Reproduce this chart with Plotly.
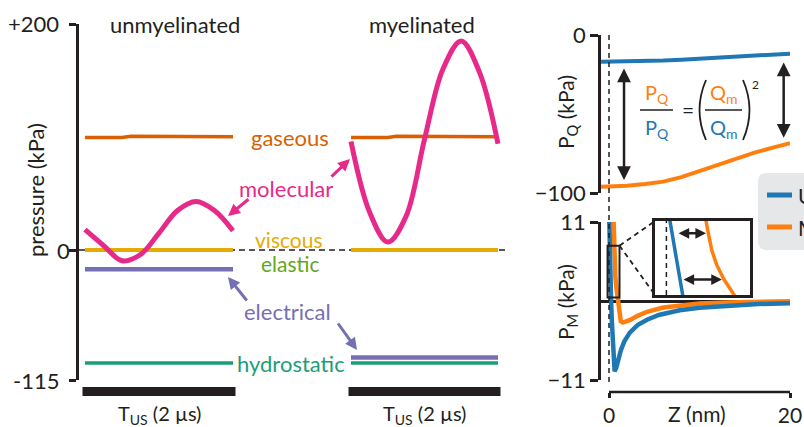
import plotly.graph_objects as go

W, H = 804, 427
FONT = "Lato"
INK = "#231f20"

# pressure component colours
GAS, MOL, VIS, ELA, ELE, HYD = "#d95f02", "#e7298a", "#e6ab02", "#66a61e", "#7570b3", "#1b9e77"
BLUE, ORANGE = "#1f77b4", "#ff7f0e"

# ---- left panel: pressure components over one 2 us ultrasound period (kPa) ----
t_wave = [0.0, 0.25, 0.5, 0.75, 1.0, 1.25, 1.5, 1.75, 2.0]
molecular_unmy = [18, 4, -9.5, -4, 15, 35, 43, 35, 17]
molecular_my = [96, 34, 7, 30, 98, 160, 185, 157, 94]

t_gas = [0.0, 0.5, 0.62, 2.0]
gaseous_unmy = [99.6, 99.6, 100.6, 100.3]
gaseous_my = [99.6, 99.6, 100.6, 100.3]

t_span = [0.0, 2.0]
viscous_unmy, viscous_my = [0, 0], [0, 0]
elastic_unmy, elastic_my = [0, 0], [0, 0]
electrical_unmy, electrical_my = [-17, -17], [-95, -95]
hydrostatic_unmy, hydrostatic_my = [-100, -100], [-100, -100]
pulse = [0.0, 2.0]
p_ticks = [-115, 0, 200]
p_ticktext = ["-115", "0", "+200"]

# ---- right panels: charge pressure P_Q and membrane pressure P_M vs gap Z ----
z_q = [-0.88, 2, 4, 6, 8, 10, 12, 14, 16, 18, 20]
pq_unmy = [-16.9, -16.8, -16.5, -16.2, -15.7, -15.0, -14.3, -13.6, -12.9, -12.3, -11.8]
pq_my = [-96.0, -95.4, -94.3, -92.8, -90.0, -86.2, -82.2, -78.2, -74.6, -71.4, -68.5]

z_m_unmy = [0.0, 0.05, 0.14, 0.225, 0.3, 0.4, 0.5, 0.62, 0.8, 1.0, 1.3, 1.7,
            2.3, 3.2, 4.2, 5.5, 7.8, 10, 13.4, 16.5, 20]
pm_unmy = [13, 7.7, 4.0, 0.4, -2.5, -6.0, -8.8, -9.8, -9.3, -8.2, -6.9, -5.6,
           -4.4, -3.3, -2.6, -1.95, -1.3, -0.95, -0.62, -0.42, -0.3]
z_m_my = [0.5, 0.55, 0.59, 0.63, 0.70, 0.8, 0.95, 1.05, 1.15, 1.3, 1.55, 1.9,
          2.4, 3.1, 4.2, 6, 8, 10, 13, 16.5, 20]
pm_my = [11.5, 7.7, 6.2, 4.85, 3.4, 2.0, 0.4, -1.0, -2.2, -2.8, -3.0, -2.9,
         -2.6, -2.1, -1.5, -0.9, -0.55, -0.35, -0.2, -0.1, -0.05]

q_ticks, m_ticks, z_ticks = [-100, 0], [-11, 11], [0, 20]
inset_z = [-0.158, 1.16]
inset_p = [0.5, 7.7]

# inset arrows: (P level, Z start, Z end)
gap_arrows = [(6.5, 0.148, 0.55), (2.0, 0.217, 0.77)]
# P_Q arrows: (Z, P top, P bottom)
pq_arrows = [(1.66, -20.3, -91.8), (19.3, -16.5, -65.0)]


def fx(p):
    return p / W


def fy(p):
    return 1 - p / H


# pixel layout of the axes
T0_L, T2_L = 85, 233          # unmyelinated time axis: t=0 and t=2 us
T0_R, T2_R = 351, 498         # myelinated time axis
Z0, ZS = 609, 9.05            # Z=0 position and px per nm


def t_range(lo, hi, t0, t2):
    s = (t2 - t0) / 2
    return [(lo - t0) / s, (hi - t0) / s]


zr = [(601 - Z0) / ZS, (790 - Z0) / ZS]

fig = go.Figure()


def smooth(x, y, color, width, xa="x", ya="y"):
    fig.add_trace(go.Scatter(x=x, y=y, mode="lines", xaxis=xa, yaxis=ya,
                             line=dict(color=color, width=width, shape="spline", smoothing=1.0),
                             hoverinfo="skip", showlegend=False))


def lin(x, y, color, width, xa, ya):
    fig.add_trace(go.Scatter(x=x, y=y, mode="lines", xaxis=xa, yaxis=ya,
                             line=dict(color=color, width=width),
                             hoverinfo="skip", showlegend=False))


for xa, gas, mol, vis, ela, ele, hyd in [
    ("x", gaseous_unmy, molecular_unmy, viscous_unmy, elastic_unmy, electrical_unmy, hydrostatic_unmy),
    ("x2", gaseous_my, molecular_my, viscous_my, elastic_my, electrical_my, hydrostatic_my),
]:
    lin(t_span, hyd, HYD, 3.5, xa, "y")
    lin(t_span, ele, ELE, 4.5, xa, "y")
    lin(t_span, ela, ELA, 4, xa, "y")
    lin(t_span, vis, VIS, 4, xa, "y")
    lin(t_gas, gas, GAS, 3.5, xa, "y")
    smooth(t_wave, mol, MOL, 5, xa, "y")

lin(z_q, pq_unmy, BLUE, 4, "x3", "y3")
lin(z_q, pq_my, ORANGE, 4, "x3", "y3")
lin(z_m_my, pm_my, ORANGE, 4.5, "x3", "y4")
lin(z_m_unmy, pm_unmy, BLUE, 4.5, "x3", "y4")
lin(z_m_my, pm_my, ORANGE, 3.5, "x4", "y5")
lin(z_m_unmy, pm_unmy, BLUE, 3.5, "x4", "y5")

shapes = []
annotations = []


def note(text, x, y, color=INK, size=22, xanchor="center", yanchor="middle", xref="paper", yref="paper", **kw):
    annotations.append(dict(text=text, x=x, y=y, xref=xref, yref=yref, showarrow=False,
                            xanchor=xanchor, yanchor=yanchor,
                            font=dict(family=FONT, size=size, color=color), **kw))


def arrow(hx, hy, dx, dy, color, width=3, size=0.8):
    annotations.append(dict(text="", x=fx(hx), y=fy(hy), xref="paper", yref="paper",
                            ax=dx, ay=dy, showarrow=True, arrowhead=2, arrowsize=size,
                            arrowwidth=width, arrowcolor=color, standoff=0))


def dbl_arrow(x0, y0, x1, y1, xref, yref, size, width=2.5):
    annotations.append(dict(text="", x=x1, y=y1, ax=x0, ay=y0, xref=xref, yref=yref,
                            axref=xref, ayref=yref, showarrow=True, arrowside="end+start",
                            arrowhead=2, startarrowhead=2, arrowsize=size, startarrowsize=size,
                            arrowwidth=width, arrowcolor=INK, standoff=0, startstandoff=0))


# zero reference line across both time panels
shapes.append(dict(type="line", xref="paper", yref="y", x0=fx(79), x1=fx(505), y0=0, y1=0,
                   line=dict(color=INK, width=1.5, dash="6px,4px"), layer="below"))

# ultrasound pulse bars under each panel
for xa in ("x", "x2"):
    shapes.append(dict(type="rect", xref=xa, yref="paper", x0=pulse[0], x1=pulse[1],
                       y0=fy(393.5), y1=fy(389.5), fillcolor=INK, line=dict(color=INK, width=5)))
    note("T<sub>US</sub> (2 µs)", (pulse[0] + pulse[1]) / 2, fy(414), size=20, xref=xa)

# Z = 0 wall
shapes.append(dict(type="line", xref="x3", yref="paper", x0=0, x1=0, y0=fy(382), y1=fy(35),
                   line=dict(color=INK, width=1.5, dash="5px,4px")))
shapes.append(dict(type="line", xref="x4", yref="y5 domain", x0=0, x1=0, y0=0, y1=1,
                   line=dict(color=INK, width=1.5, dash="5px,4px")))

# bottom Z axis line
shapes.append(dict(type="line", xref="x3", yref="paper", x0=z_ticks[0], x1=z_ticks[1],
                   y0=fy(392), y1=fy(392), line=dict(color=INK, width=2.5)))

# zoom box and connectors to the inset
shapes.append(dict(type="rect", xref="x3", yref="y4", x0=inset_z[0], x1=inset_z[1],
                   y0=inset_p[0], y1=inset_p[1], line=dict(color=INK, width=2)))
cx = fx(Z0 + inset_z[1] * ZS)
cy = fy(301 - inset_p[1] * (79 / 11))
for ty in (221, 295):
    shapes.append(dict(type="line", xref="paper", yref="paper", x0=cx, y0=cy, x1=fx(655), y1=fy(ty),
                       line=dict(color=INK, width=1.8, dash="5px,4px")))

# ratio formula: fraction bars and brackets
for a, b in ((640, 673), (705, 742)):
    shapes.append(dict(type="line", xref="paper", yref="paper", x0=fx(a), x1=fx(b), y0=fy(110), y1=fy(110),
                       line=dict(color=INK, width=1.5)))
shapes.append(dict(type="path", xref="paper", yref="paper",
                   path=f"M{fx(706)},{fy(80)} Q{fx(693)},{fy(110)} {fx(706)},{fy(140)}",
                   line=dict(color=INK, width=1.8)))
shapes.append(dict(type="path", xref="paper", yref="paper",
                   path=f"M{fx(743)},{fy(80)} Q{fx(756)},{fy(110)} {fx(743)},{fy(140)}",
                   line=dict(color=INK, width=1.8)))
note("P<sub>Q</sub>", fx(657), fy(93), ORANGE, 20)
note("P<sub>Q</sub>", fx(657), fy(128), BLUE, 20)
note("=", fx(688), fy(109), INK, 21)
note("Q<sub>m</sub>", fx(724), fy(93), ORANGE, 20)
note("Q<sub>m</sub>", fx(724), fy(128), BLUE, 20)
note("2", fx(755), fy(84), INK, 12)

# legend panel
lx0, lx1, ly0, ly1, r = 758, 840, 173, 250, 9
shapes.append(dict(type="path", xref="paper", yref="paper", fillcolor="#e6e7e8", line=dict(width=0),
                   path=(f"M{fx(lx0 + r)},{fy(ly0)} L{fx(lx1)},{fy(ly0)} L{fx(lx1)},{fy(ly1)} "
                         f"L{fx(lx0 + r)},{fy(ly1)} Q{fx(lx0)},{fy(ly1)} {fx(lx0)},{fy(ly1 - r)} "
                         f"L{fx(lx0)},{fy(ly0 + r)} Q{fx(lx0)},{fy(ly0)} {fx(lx0 + r)},{fy(ly0)} Z")))
for yy, col, name in ((195, BLUE, "Unmyelinated"), (227, ORANGE, "Myelinated")):
    shapes.append(dict(type="line", xref="paper", yref="paper", x0=fx(767), x1=fx(792), y0=fy(yy), y1=fy(yy),
                       line=dict(color=col, width=5)))
    note(name, fx(796), fy(yy), INK, 21, xanchor="left")

# panel headers and axis titles
note("unmyelinated", fx(175), fy(25), INK, 22)
note("myelinated", fx(422), fy(25), INK, 22)
note("pressure (kPa)", fx(35), fy(190), INK, 22, textangle=-90)
note("P<sub>Q</sub> (kPa)", fx(567), fy(112), INK, 21, textangle=-90)
note("P<sub>M</sub> (kPa)", fx(567), fy(302), INK, 21, textangle=-90)
note("Z (nm)", fx(697), fy(413), INK, 21)
for v, s in zip(p_ticks, p_ticktext):
    note(s, fx(72 if v == 0 else 61), v, INK, 22, xanchor="right", yref="y")

# component labels
note("gaseous", fx(290), fy(137), GAS, 22)
note("molecular", fx(286), fy(188), MOL, 22)
note("viscous", fx(289), fy(240), VIS, 21)
note("elastic", fx(290), fy(263), ELA, 21)
note("electrical", fx(287), fy(311), ELE, 22)
note("hydrostatic", fx(291), fy(363), HYD, 22)

arrow(228, 216, 22, -18, MOL)
arrow(350, 159, -20, 19, MOL)
arrow(228, 277, 20, 25, ELE)
arrow(357, 350, -20, -28, ELE)

for z, a, b in pq_arrows:
    dbl_arrow(z, a, z, b, "x3", "y3", 1.1)
for p, a, b in gap_arrows:
    dbl_arrow(a, p, b, p, "x4", "y5", 0.85)

axis_font = dict(family=FONT, size=22, color=INK)
fig.update_layout(
    width=W, height=H, margin=dict(l=0, r=0, t=0, b=0),
    paper_bgcolor="white", plot_bgcolor="rgba(0,0,0,0)", template="none",
    showlegend=False, shapes=shapes, annotations=annotations,
    xaxis=dict(domain=[fx(79), fx(240)], range=t_range(79, 240, T0_L, T2_L), visible=False),
    xaxis2=dict(domain=[fx(340), fx(510)], range=t_range(340, 510, T0_R, T2_R), visible=False, anchor="y"),
    yaxis=dict(domain=[fy(380), fy(24)], range=[-115, 200], anchor="x", showline=True, linewidth=3,
               linecolor=INK, ticks="outside", ticklen=7, tickwidth=2.5, tickcolor=INK,
               tickvals=p_ticks, showticklabels=False, showgrid=False, zeroline=False),
    xaxis3=dict(domain=[fx(601), fx(790)], range=zr, anchor="free", position=fy(392), showline=False,
                ticks="outside", ticklen=5, tickwidth=2.5, tickcolor=INK, tickvals=z_ticks,
                tickfont=dict(family=FONT, size=21, color=INK), showgrid=False, zeroline=False),
    yaxis3=dict(domain=[fy(193), fy(35)], range=[-100, 0], anchor="x3", showline=True, linewidth=2.5,
                linecolor=INK, ticks="outside", ticklen=8, tickwidth=2.5, tickcolor=INK,
                tickvals=q_ticks, tickfont=axis_font, showgrid=False, zeroline=False),
    yaxis4=dict(domain=[fy(380), fy(222)], range=[-11, 11], anchor="x3", showline=True, linewidth=2.5,
                linecolor=INK, ticks="outside", ticklen=8, tickwidth=2.5, tickcolor=INK,
                tickvals=m_ticks, tickfont=axis_font, showgrid=False, zeroline=True,
                zerolinecolor=INK, zerolinewidth=2.5),
    xaxis4=dict(domain=[fx(655), fx(750)], range=inset_z, anchor="y5", showline=True, mirror=True,
                linewidth=2.5, linecolor=INK, ticks="", showticklabels=False, showgrid=False, zeroline=False),
    yaxis5=dict(domain=[fy(295), fy(221)], range=inset_p, anchor="x4", showline=True, mirror=True,
                linewidth=2.5, linecolor=INK, ticks="", showticklabels=False, showgrid=False, zeroline=False),
)

fig.write_html("out.html")
